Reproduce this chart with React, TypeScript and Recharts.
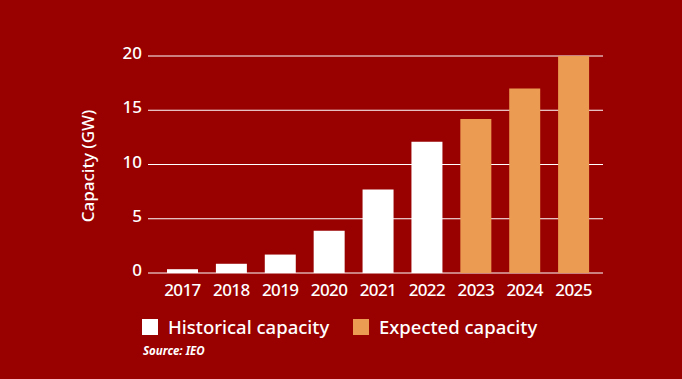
import { BarChart, Bar, XAxis, YAxis, CartesianGrid } from "recharts";

const years = ["2017", "2018", "2019", "2020", "2021", "2022", "2023", "2024", "2025"];
const historical = [0.35, 0.85, 1.7, 3.9, 7.7, 12.1, null, null, null];
const expected = [null, null, null, null, null, null, 14.2, 17.0, 20.0];
const yTicks = [0, 5, 10, 15, 20];

const BG = "#990000";
const ORANGE = "#EC9B52";
const FONT = "'Noto Sans', 'Open Sans', sans-serif";

const data = years.map((year, i) => ({
  year,
  historical: historical[i],
  expected: expected[i],
}));

function App() {
  return (
    <div
      style={{
        position: "absolute",
        top: 0,
        left: 0,
        width: 682,
        height: 379,
        background: BG,
        fontFamily: FONT,
        overflow: "hidden",
      }}
    >
      <BarChart
        width={682}
        height={379}
        data={data}
        margin={{ top: 56, right: 79, left: 0, bottom: 76 }}
      >
        <CartesianGrid vertical={false} stroke="#ffffff" strokeWidth={1} />
        <XAxis
          dataKey="year"
          height={30}
          axisLine={false}
          tickLine={false}
          tickSize={0}
          tickMargin={11}
          padding={{ left: 10, right: 5 }}
          tick={{ fill: "#ffffff", fontSize: 17, fontFamily: FONT, fontWeight: 500, letterSpacing: -0.6 }}
        />
        <YAxis
          width={148}
          domain={[0, 20]}
          ticks={yTicks}
          axisLine={false}
          tickLine={false}
          tickSize={0}
          tickMargin={6}
          tick={{ fill: "#ffffff", fontSize: 17, fontFamily: FONT, fontWeight: 500, dy: -3 }}
          label={{
            content: () => (
              <text
                x={87}
                y={166}
                transform="rotate(-90 87 166)"
                textAnchor="middle"
                dominantBaseline="central"
                fill="#ffffff"
                fontSize={17}
                fontWeight={500}
                fontFamily={FONT}
              >
                Capacity (GW)
              </text>
            ),
          }}
        />
        <Bar dataKey="historical" stackId="a" fill="#ffffff" barSize={31} isAnimationActive={false} />
        <Bar dataKey="expected" stackId="a" fill={ORANGE} barSize={31} isAnimationActive={false} />
      </BarChart>

      <div style={{ position: "absolute", left: 142, top: 319, width: 16, height: 16, background: "#ffffff" }} />
      <div
        style={{
          position: "absolute",
          left: 168,
          top: 315,
          color: "#ffffff",
          fontSize: 18.5,
          fontWeight: 500,
          lineHeight: "24px",
          whiteSpace: "nowrap",
        }}
      >
        Historical capacity
      </div>
      <div style={{ position: "absolute", left: 353, top: 319, width: 16, height: 16, background: ORANGE }} />
      <div
        style={{
          position: "absolute",
          left: 379,
          top: 315,
          color: "#ffffff",
          fontSize: 18.5,
          fontWeight: 500,
          lineHeight: "24px",
          whiteSpace: "nowrap",
        }}
      >
        Expected capacity
      </div>
      <div
        style={{
          position: "absolute",
          left: 143,
          top: 343,
          color: "#ffffff",
          fontSize: 11.5,
          fontWeight: 700,
          fontStyle: "italic",
          lineHeight: "16px",
          whiteSpace: "nowrap",
        }}
      >
        Source: IEO
      </div>
    </div>
  );
}

export default App;
